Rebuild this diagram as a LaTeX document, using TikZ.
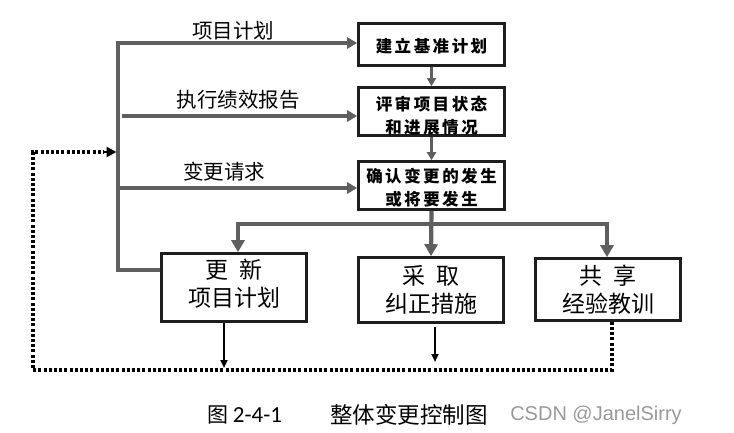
\documentclass[tikz,border=0pt]{standalone}
\usepackage{fontspec}
\setmainfont{Liberation Sans}
\newfontfamily\cjk{Noto Sans CJK SC}
\newfontfamily\lat{Carlito}
\usetikzlibrary{arrows.meta,calc}
\definecolor{gline}{HTML}{5F5F5F}
\definecolor{bord}{HTML}{1E1E1E}
\newcommand\gp{\hspace{2.5pt}}
\begin{document}
\begin{tikzpicture}[x=1pt,y=-1pt,
 box/.style={draw=bord,line width=2.6pt,fill=white,inner sep=0pt,align=center},
 topbox/.style={box,font=\cjk\bfseries\fontsize{16.5}{23}\selectfont},
 botbox/.style={box,font=\cjk\fontsize{23}{30}\selectfont},
 gray/.style={draw=gline,line width=3.6pt},
 garrow/.style={gray,-{Triangle[length=10pt,width=11pt]}},
 gsmall/.style={draw=gline,line width=3pt,-{Triangle[length=8pt,width=9pt]}},
 gbig/.style={draw=gline,line width=4.2pt,-{Triangle[length=12pt,width=13pt]}},
 barrow/.style={draw=black,line width=2pt,-{Triangle[length=8pt,width=7pt]}},
 dots/.style={draw=black,line width=3.4pt,dash pattern=on 3pt off 2.2pt},
 lab/.style={font=\cjk\fontsize{20.5}{22}\selectfont,inner sep=0pt},
 ]
\useasboundingbox (0,0) rectangle (734,433);

% right column boxes
\node[topbox,minimum width=146,minimum height=42] (b1) at (431.5,44.5) {\rule{0pt}{18.5pt}建\gp 立\gp 基\gp 准\gp 计\gp 划};
\node[topbox,minimum width=146,minimum height=47] (b2) at (431.5,111.5) {\rule{0pt}{23.5pt}评\gp 审\gp 项\gp 目\gp 状\gp 态\\和\gp 进\gp 展\gp 情\gp 况};
\node[topbox,minimum width=146,minimum height=48] (b3) at (431.5,185.5) {\rule{0pt}{18.5pt}确\gp 认\gp 变\gp 更\gp 的\gp 发\gp 生\\或\gp 将\gp 要\gp 发\gp 生};

% bottom boxes
\node[botbox,minimum width=145,minimum height=68] (L) at (234,287.5) {更\hspace{12pt}新\\[-2pt]项目计划\rule[-9pt]{0pt}{9pt}};
\node[botbox,minimum width=145,minimum height=65] (M) at (431,290) {采\hspace{12pt}取\\[-2pt]纠正措施};
\node[botbox,minimum width=145,minimum height=62] (R) at (608,289.5) {共\hspace{12pt}享\\[-2pt]经验教训};

% labels
\node[lab] (l1) at (233,31) {项目计划};
\node[lab] (l2) at (238,100) {执行绩效报告};
\node[lab] (l3) at (224,172) {变更请求};

% left trunk
\coordinate (vt) at (118,43);
\coordinate (vb) at (118,270);
\coordinate (a2) at (122,116);
\coordinate (a3) at (118,188);
\draw[garrow,line join=miter] (vb -| L.west) -- (vb) -- (vt) -- (vt -| b1.west);
\draw[garrow] (a2) -- (a2 -| b2.west);
\draw[garrow] (a3) -- (a3 -| b3.west);

% column arrows
\draw[gsmall] (b1.south) -- (b2.north);
\draw[gsmall] (b2.south) -- (b3.north);

% branch
\coordinate (hy) at (0,224);
\coordinate (hl) at (238,224);
\coordinate (hr) at (607,224);
\draw[gbig,line join=miter] (b3.south |- hy) -- (hl) -- (hl |- L.north);
\draw[gbig,line join=miter] (b3.south |- hy) -- (hr) -- (hr |- R.north);
\draw[gbig] (b3.south) -- (M.north);

% black down arrows
\coordinate (ld) at (224,368);
\coordinate (ms) at (435,327);
\coordinate (md) at (435,362);
\draw[barrow] (ld |- L.south) -- (ld);
\draw[barrow] (ms) -- (md);

% dotted feedback
\coordinate (rx) at (612,0);
\coordinate (c1) at (612,370);
\coordinate (c2) at (33,370);
\coordinate (c3) at (33,152);
\coordinate (c4) at (104,152);
\coordinate (c5) at (116.5,152);
\draw[dots] (R.south -| rx) -- (c1) -- (c2) -- (c3) -- (c4);
\draw[draw=black,line width=2.4pt,-{Triangle[length=10pt,width=10pt]}] (c4) -- (c5);

% caption
\node[inner sep=0pt,anchor=west] (cap1) at (207,415) {\cjk\fontsize{21}{24}\selectfont 图 \lat\fontsize{23}{24}\selectfont 2-4-1};
\node[inner sep=0pt,font=\cjk\fontsize{22.5}{24}\selectfont] (cap2) at (409,415) {整体变更控制图};
\node[inner sep=0pt,text=black!40,font=\fontsize{20}{24}\selectfont] (wm) at (596,415) {CSDN @JanelSirry};
\end{tikzpicture}
\end{document}
